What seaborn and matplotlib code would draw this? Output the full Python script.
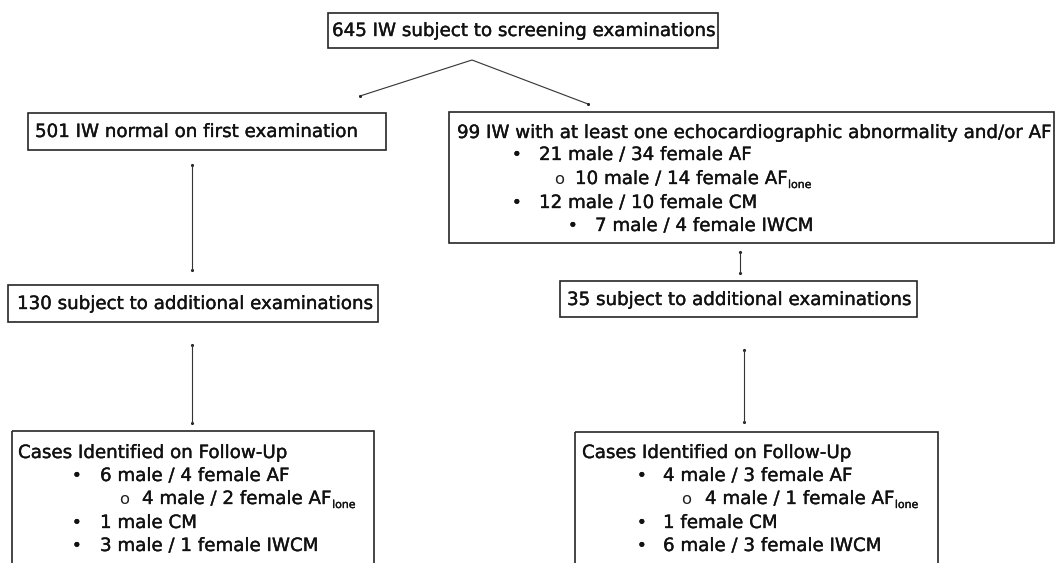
import pandas as pd
import matplotlib
matplotlib.use("Agg")
import matplotlib.pyplot as plt
import matplotlib.patheffects as pe
import seaborn as sns

# Box texts (data)
top_title = "645 IW subject to screening examinations"
normal_title = "501 IW normal on first examination"
abnormal_title = "99 IW with at least one echocardiographic abnormality and/or AF"
abnormal_items = ["21 male / 34 female AF", "10 male / 14 female AF", "12 male / 10 female CM", "7 male / 4 female IWCM"]
abnormal_marks = ["•", "o", "•", "•"]
abnormal_levels = [1, 2, 1, 3]
abnormal_lone = [False, True, False, False]
normal_followup_title = "130 subject to additional examinations"
abnormal_followup_title = "35 subject to additional examinations"
cases_title = "Cases Identified on Follow-Up"
left_cases = ["6 male / 4 female AF", "4 male / 2 female AF", "1 male CM", "3 male / 1 female IWCM"]
right_cases = ["4 male / 3 female AF", "4 male / 1 female AF", "1 female CM", "6 male / 3 female IWCM"]
cases_marks = ["•", "o", "•", "•"]
cases_levels = [1, 2, 1, 1]
cases_lone = [False, True, False, False]

# Layout (pixel coordinates of the 1056x563 canvas)
boxes = {
    "top": (328, 13, 718, 48),
    "normal": (28, 113, 386, 150),
    "abnormal": (449, 112, 1054, 243),
    "normal_fu": (8, 285, 378, 322),
    "abnormal_fu": (560, 281, 917, 317),
    "left_cases": (12, 431, 374, 600),
    "right_cases": (575, 432, 938, 600),
}
connectors = pd.DataFrame({
    "link": ["split"] * 3 + ["l1"] * 2 + ["r1"] * 2 + ["l2"] * 2 + ["r2"] * 2,
    "x": [360, 472, 588, 192, 192, 740, 740, 192, 192, 744, 744],
    "y": [96, 60, 104, 165, 270, 252, 273, 345, 423, 350, 422],
})
end_points = connectors.groupby("link").nth([0, -1])
end_points = end_points[~((end_points["link"] == "split") & (end_points["x"] == 472))]

sns.set_theme(style="white")
plt.rcParams["font.family"] = ["DejaVu Sans"]

fig = plt.figure(figsize=(10.56, 5.63), dpi=100)
ax = fig.add_axes([0, 0, 1, 1])
ax.set_xlim(0, 1056)
ax.set_ylim(563, 0)
ax.axis("off")

font = dict(family="DejaVu Sans", color="#111111",
            path_effects=[pe.withStroke(linewidth=0.25, foreground="#111111")])

# size text so the top title spans the same width as in the picture
probe = ax.text(0, 0, top_title, fontsize=10, family="DejaVu Sans")
fig.canvas.draw()
w = probe.get_window_extent().width
probe.remove()
fs = 10 * 383 / w

for x0, y0, x1, y1 in boxes.values():
    ax.add_patch(plt.Rectangle((x0, y0), x1 - x0, y1 - y0, fill=False,
                               edgecolor="#262626", linewidth=1.2, clip_on=True))

sns.lineplot(data=connectors, x="x", y="y", units="link", estimator=None, sort=False,
             color="#333333", linewidth=0.8, ax=ax)
sns.scatterplot(data=end_points, x="x", y="y", color="#222222", s=5, linewidth=0, ax=ax)
ax.set_xlabel("")
ax.set_ylabel("")


def put(x, y, s, size=None, lone=False):
    t = ax.text(x, y, s, fontsize=size or fs, ha="left", va="center", **font)
    if lone:
        fig.canvas.draw()
        bb = t.get_window_extent()
        xr = ax.transData.inverted().transform((bb.x1, 0))[0]
        ax.text(xr + 1, y + 6, "lone", fontsize=fs * 0.6, ha="left", va="center", **font)
    return t


def mark(x, y, m):
    if m == "o":
        ax.text(x - 4, y + 1, m, fontsize=fs * 0.9, ha="left", va="center",
                family="DejaVu Sans", color="#222222")
    else:
        put(x - 3, y, m, size=fs * 0.9)


put(332, 31, top_title)
put(35, 132, normal_title)
put(17, 304, normal_followup_title)
put(567, 300, abnormal_followup_title)

# abnormal box
put(457, 133, abnormal_title)
lvl_x = {1: (515, 539), 2: (558, 575), 3: (571, 595)}
for i, (s, m, lv, ln) in enumerate(zip(abnormal_items, abnormal_marks, abnormal_levels, abnormal_lone)):
    y = [155, 179, 203, 226][i]
    mx, tx = lvl_x[lv]
    mark(mx, y, m)
    put(tx, y, s, lone=ln)

# follow-up cases boxes
for x_title, items, (b1, t1, b2, t2) in [(18, left_cases, (75, 100, 123, 142)),
                                         (582, right_cases, (640, 663, 685, 705))]:
    put(x_title, 453, cases_title)
    for i, (s, m, lv, ln) in enumerate(zip(items, cases_marks, cases_levels, cases_lone)):
        y = [476, 499, 523, 546][i]
        mx, tx = (b1, t1) if lv == 1 else (b2, t2)
        mark(mx, y, m)
        put(tx, y, s, lone=ln)

fig.savefig("out.png", dpi=100, facecolor="white")
